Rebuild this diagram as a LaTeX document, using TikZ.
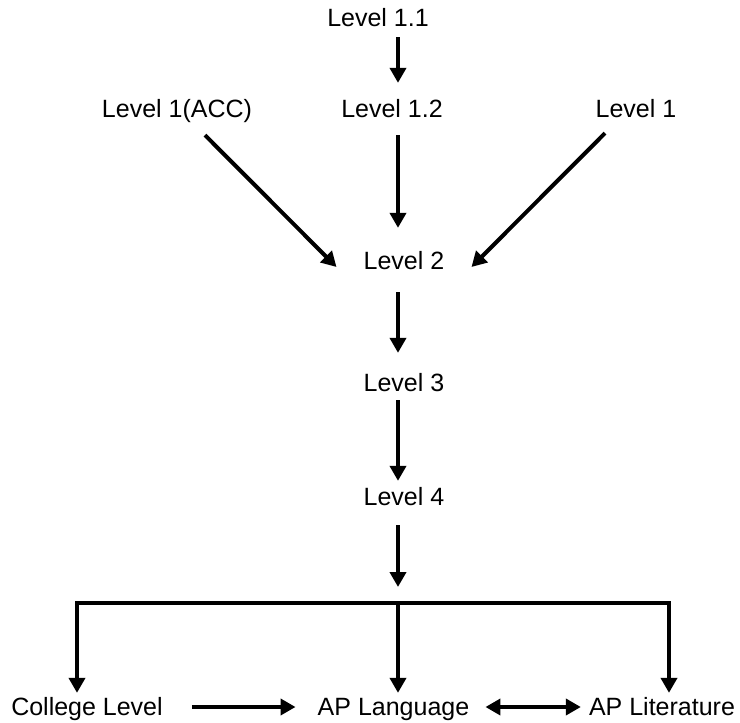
\documentclass[tikz,border=0pt]{standalone}
\usepackage{fontspec}
\setmainfont{Liberation Sans}
\usetikzlibrary{arrows.meta,calc}
\begin{document}
\begin{tikzpicture}[x=1pt,y=-1pt,
  lbl/.style={font=\fontsize{25}{30}\selectfont, inner sep=0pt, text height=17.9pt, text depth=0pt},
  arr/.style={line width=4pt, -{Triangle[length=15pt,width=16pt]}},
  darr/.style={line width=4pt, {Triangle[length=15pt,width=16pt]}-{Triangle[length=15pt,width=16pt]}},
  barline/.style={line width=4pt, line cap=rect}]
\useasboundingbox (0,0) rectangle (740,723);
\node[lbl] (l11) at (378,18) {Level 1.1};
\node[lbl] (l1acc) at (177,109) {Level 1(ACC)};
\node[lbl] (l12) at (392,109) {Level 1.2};
\node[lbl] (l1) at (636,109) {Level 1};
\node[lbl] (l2) at (404,261) {Level 2};
\node[lbl] (l3) at (404,383) {Level 3};
\node[lbl] (l4) at (404,497) {Level 4};
\node[lbl] (cl) at (87,707) {College Level};
\node[lbl] (apl) at (393.5,707) {AP Language};
\node[lbl] (aplit) at (662,707) {AP Literature};
\coordinate (cx) at (398,0);
\coordinate (bl) at (77,603);
\coordinate (bm) at (398,603);
\coordinate (br) at (669,603);
\draw[arr, shorten <=10pt, shorten >=17pt] (l11.south -| cx) -- (l12.north -| cx);
\draw[arr, shorten <=17pt, shorten >=24pt] (l12.south -| cx) -- (l2.north -| cx);
\draw[arr] ($(l1acc.south)+(28,17)$) -- ($(l2.west)+(-27,6)$);
\draw[arr] ($(l1.south)+(-31,15)$) -- ($(l2.east)+(27,6)$);
\draw[arr, shorten <=22pt, shorten >=21pt] (l2.south -| cx) -- (l3.north -| cx);
\draw[arr, shorten <=8pt, shorten >=7pt] (l3.south -| cx) -- (l4.north -| cx);
\draw[arr, shorten <=19pt, shorten >=16pt] (l4.south -| cx) -- (bm);
\draw[barline] (bl) -- (br);
\draw[arr, shorten >=5pt] (bl) -- (cl.north -| bl);
\draw[arr, shorten >=5pt] (bm) -- (apl.north -| bm);
\draw[arr, shorten >=5pt] (br) -- (aplit.north -| br);
\draw[arr, shorten <=29pt, shorten >=22pt] (cl.east) -- (apl.west);
\draw[darr, shorten <=16pt, shorten >=8pt] (apl.east) -- (aplit.west);
\end{tikzpicture}
\end{document}
